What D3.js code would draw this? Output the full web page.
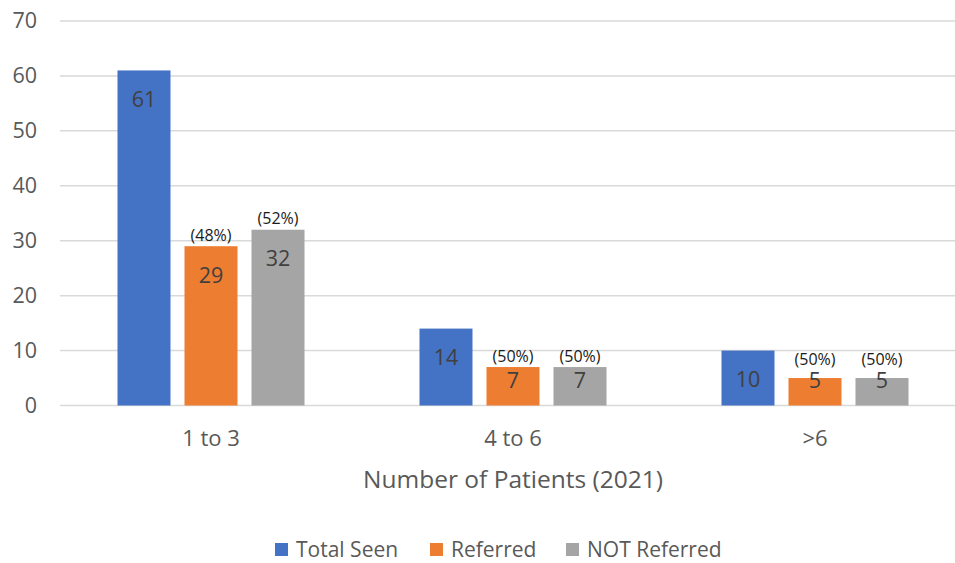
<!DOCTYPE html>
<html>
<head>
<meta charset="utf-8">
<script src="https://cdn.jsdelivr.net/npm/d3@7"></script>
<style>
  html, body { margin: 0; padding: 0; background: #fff; }
  svg { display: block; font-family: "Open Sans", sans-serif; }
</style>
</head>
<body>
<svg id="chart" width="955" height="563"></svg>
<script>
const categories = ["1 to 3", "4 to 6", ">6"];
const seriesNames = ["Total Seen", "Referred", "NOT Referred"];
const totalSeen = [61, 14, 10];
const referred = [29, 7, 5];
const notReferred = [32, 7, 5];
const referredPct = ["(48%)", "(50%)", "(50%)"];
const notReferredPct = ["(52%)", "(50%)", "(50%)"];
const yTicks = [0, 10, 20, 30, 40, 50, 60, 70];
const colors = ["#4472C4", "#ED7D31", "#A5A5A5"];
const xTitle = "Number of Patients (2021)";

const FONT = "'Open Sans', sans-serif";
const svg = d3.select("#chart");
const mLeft = 60, mRight = 966, mTop = 21, mBottom = 405.5;

const x0 = d3.scaleBand().domain(categories).range([mLeft, mRight]).padding(0);
const x1 = d3.scaleBand().domain(seriesNames).range([0, x0.bandwidth()])
  .paddingInner(0.209).paddingOuter(0.858);
const y = d3.scaleLinear().domain([0, 70]).range([mBottom, mTop]);

// gridlines
svg.append("g").selectAll("line").data(yTicks).join("line")
  .attr("x1", mLeft).attr("x2", 955)
  .attr("y1", d => y(d)).attr("y2", d => y(d))
  .attr("stroke", "#D9D9D9").attr("stroke-width", 1.5);

// y tick labels
const yAxis = d3.axisLeft(y).tickValues(yTicks).tickSize(0).tickPadding(0);
const gy = svg.append("g").attr("transform", `translate(${mLeft - 23},0)`).call(yAxis);
gy.select(".domain").remove();
gy.selectAll("text").attr("fill", "#595959").style("font-size", "21.5px")
  .style("font-family", FONT);

const seriesValues = [totalSeen, referred, notReferred];
const pctLabels = [null, referredPct, notReferredPct];

const data = [];
categories.forEach((c, i) => {
  seriesNames.forEach((s, j) => {
    data.push({cat: c, ser: s, v: seriesValues[j][i], j, pct: pctLabels[j] ? pctLabels[j][i] : null});
  });
});

const bars = svg.append("g");
bars.selectAll("rect").data(data).join("rect")
  .attr("x", d => x0(d.cat) + x1(d.ser))
  .attr("y", d => y(d.v))
  .attr("width", x1.bandwidth())
  .attr("height", d => y(0) - y(d.v))
  .attr("fill", d => colors[d.j]);

// value labels
bars.selectAll("text.val").data(data).join("text").attr("class", "val")
  .attr("x", d => x0(d.cat) + x1(d.ser) + x1.bandwidth() / 2)
  .attr("y", d => Math.min(y(d.v) + 29, y(0) - 25))
  .attr("dy", "0.35em")
  .attr("text-anchor", "middle")
  .attr("fill", "#404040")
  .style("font-size", "21.5px")
  .text(d => d.v);

// percent labels
bars.selectAll("text.pct").data(data.filter(d => d.pct)).join("text").attr("class", "pct")
  .attr("x", d => x0(d.cat) + x1(d.ser) + x1.bandwidth() / 2)
  .attr("y", d => Math.min(y(d.v) - 11, y(0) - 46))
  .attr("dy", "0.35em")
  .attr("text-anchor", "middle")
  .attr("fill", "#1a1a1a")
  .style("font-size", "16px")
  .text(d => d.pct);

// x axis
const xAxis = d3.axisBottom(x0).tickSize(0).tickPadding(0);
const gx = svg.append("g").attr("transform", `translate(0,${mBottom + 25})`).call(xAxis);
gx.select(".domain").remove();
gx.selectAll("text").attr("fill", "#595959").style("font-size", "22px")
  .style("font-family", FONT);

// x title
svg.append("text").attr("x", 513).attr("y", 479).attr("dy", "0.35em")
  .attr("text-anchor", "middle").attr("fill", "#595959").style("font-size", "24.5px")
  .text(xTitle);

// legend
const legendX = [275, 430, 566];
const lg = svg.append("g");
seriesNames.forEach((s, j) => {
  lg.append("rect").attr("x", legendX[j]).attr("y", 543).attr("width", 13).attr("height", 13)
    .attr("fill", colors[j]);
  lg.append("text").attr("x", legendX[j] + 21).attr("y", 549.5).attr("dy", "0.35em")
    .attr("fill", "#595959").style("font-size", "21px").text(s);
});
</script>
</body>
</html>
